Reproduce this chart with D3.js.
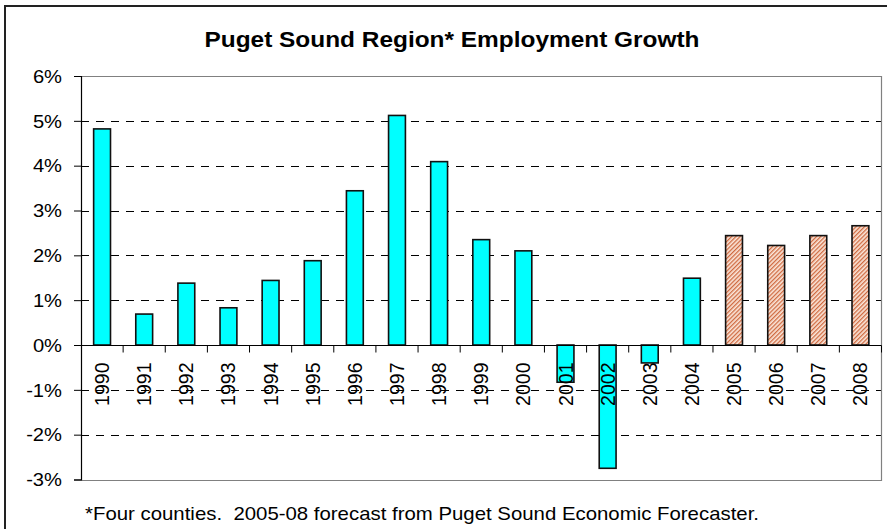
<!DOCTYPE html>
<html>
<head>
<meta charset="utf-8">
<script src="https://cdn.jsdelivr.net/npm/d3@7"></script>
<style>
  html, body { margin: 0; padding: 0; background: #fff; }
  svg { display: block; }
  text { font-family: "Liberation Sans", Arial, sans-serif; fill: #000; }
</style>
</head>
<body>
<svg id="chart" width="887" height="529"></svg>
<script>
// Annual employment growth, Puget Sound region (four counties)
const years = ["1990","1991","1992","1993","1994","1995","1996","1997","1998","1999",
               "2000","2001","2002","2003","2004","2005","2006","2007","2008"];
const growth = [4.82, 0.69, 1.38, 0.83, 1.44, 1.88, 3.44, 5.12, 4.09, 2.35,
                2.10, -0.83, -2.75, -0.40, 1.49, 2.44, 2.22, 2.44, 2.66];
// 2005-08 values are forecasts
const forecastYears = ["2005","2006","2007","2008"];
const yTicks = [-3, -2, -1, 0, 1, 2, 3, 4, 5, 6];

const titleText = "Puget Sound Region* Employment Growth";
const noteText = "*Four counties.  2005-08 forecast from Puget Sound Economic Forecaster.";

const svg = d3.select("#chart");
const W = 887, H = 529;
const plot = { left: 81, right: 881.5, top: 76, bottom: 479.5 };

// outer frame
svg.append("rect")
  .attr("x", 5).attr("y", 6)
  .attr("width", W + 10).attr("height", H + 10)
  .attr("fill", "#fff").attr("stroke", "#222").attr("stroke-width", 2);

// hatch pattern for forecast bars
const defs = svg.append("defs");
const pat = defs.append("pattern")
  .attr("id", "hatch").attr("patternUnits", "userSpaceOnUse")
  .attr("width", 3).attr("height", 3)
  .attr("patternTransform", "rotate(-45)");
pat.append("rect").attr("width", 3).attr("height", 3).attr("fill", "#fbe6da");
pat.append("rect").attr("width", 3).attr("height", 1.3).attr("fill", "#cf6a40");

const x = d3.scaleBand()
  .domain(years)
  .range([plot.left, plot.right])
  .paddingInner(0.6).paddingOuter(0.3);

const y = d3.scaleLinear()
  .domain([-3, 6])
  .range([plot.bottom, plot.top]);

// dashed gridlines
svg.append("g")
  .selectAll("line")
  .data(yTicks.filter(t => t !== 0 && t !== -3 && t !== 6))
  .join("line")
  .attr("x1", plot.left).attr("x2", plot.right)
  .attr("y1", d => Math.round(y(d)) + 0.5).attr("y2", d => Math.round(y(d)) + 0.5)
  .attr("stroke", "#000").attr("stroke-width", 1)
  .attr("stroke-dasharray", "8,7");

// plot frame (top, right, bottom)
svg.append("path")
  .attr("d", `M${plot.left},${Math.round(y(6)) + 0.5}H${plot.right}V${Math.round(y(-3)) + 0.5}H${plot.left}`)
  .attr("fill", "none").attr("stroke", "#808080").attr("stroke-width", 1.2);

// bars
svg.append("g")
  .selectAll("rect")
  .data(years.map((yr, i) => ({ yr, v: growth[i] })))
  .join("rect")
  .attr("x", d => x(d.yr))
  .attr("width", x.bandwidth())
  .attr("y", d => y(Math.max(0, d.v)))
  .attr("height", d => Math.abs(y(d.v) - y(0)))
  .attr("fill", d => forecastYears.includes(d.yr) ? "url(#hatch)" : "#00ffff")
  .attr("stroke", "#111").attr("stroke-width", 1.6);

// y axis
const yAxis = svg.append("g")
  .attr("transform", `translate(${plot.left},0)`)
  .call(d3.axisLeft(y).tickValues(yTicks).tickSize(7).tickFormat(d => d + "%"));
yAxis.select(".domain").attr("stroke", "#000").attr("stroke-width", 1.2);
yAxis.selectAll(".tick line").attr("stroke", "#000");
yAxis.selectAll(".tick text")
  .attr("x", -19)
  .attr("dy", "0.35em")
  .style("font-size", "18px")
  .style("font-family", "'Liberation Sans', Arial, sans-serif")
  .each(function () {
    const len = this.getComputedTextLength();
    d3.select(this).attr("textLength", len * 1.12).attr("lengthAdjust", "spacingAndGlyphs");
  });

// category axis along zero line, ticks at band boundaries
const y0 = Math.round(y(0)) + 0.5;
svg.append("line")
  .attr("x1", plot.left).attr("x2", plot.right)
  .attr("y1", y0).attr("y2", y0)
  .attr("stroke", "#000").attr("stroke-width", 1.2);

const step = x.step();
const boundaries = d3.range(1, years.length + 1).map(i => x(years[0]) - step * 0.3 + step * i);
svg.append("g")
  .selectAll("line")
  .data(boundaries)
  .join("line")
  .attr("x1", d => d).attr("x2", d => d)
  .attr("y1", y0).attr("y2", y0 + 7)
  .attr("stroke", "#000");

// rotated year labels
svg.append("g")
  .selectAll("text")
  .data(years)
  .join("text")
  .attr("transform", d => `translate(${x(d) + x.bandwidth() / 2 + 7},${y0 + 17}) rotate(-90)`)
  .attr("text-anchor", "end")
  .style("font-size", "19.5px")
  .text(d => d);

// title
svg.append("text")
  .attr("x", 452).attr("y", 47)
  .attr("text-anchor", "middle")
  .style("font-size", "22px").style("font-weight", "bold")
  .attr("textLength", 495).attr("lengthAdjust", "spacingAndGlyphs")
  .text(titleText);

// footnote
svg.append("text")
  .attr("x", 85).attr("y", 520)
  .style("font-size", "19px")
  .style("white-space", "pre")
  .attr("textLength", 674).attr("lengthAdjust", "spacingAndGlyphs")
  .text(noteText);
</script>
</body>
</html>
